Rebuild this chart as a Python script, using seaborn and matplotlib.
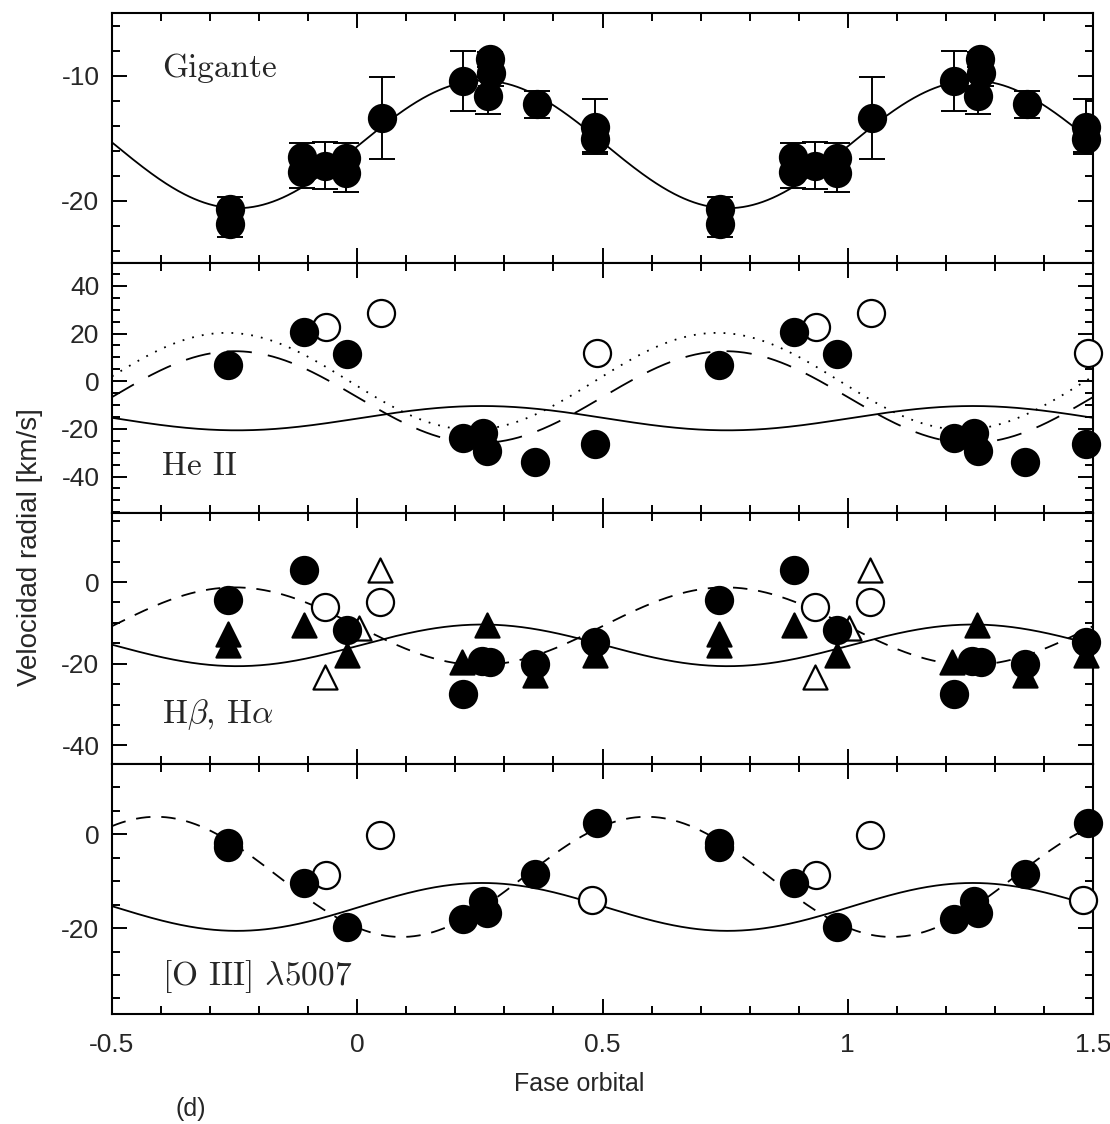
import numpy as np
import pandas as pd
import matplotlib
matplotlib.use("Agg")
import matplotlib.pyplot as plt
from matplotlib.ticker import MultipleLocator, FixedLocator, FixedFormatter
import seaborn as sns

# ---- Giant star radial velocities (phase, km/s, error) ----
gig_phase = [-0.260, -0.260, -0.112, -0.112, -0.066, -0.022, -0.022, 0.050,
             0.216, 0.270, 0.272, 0.266, 0.366, 0.485, 0.485]
gig_vel = [-20.7, -21.9, -16.5, -17.7, -17.2, -16.6, -17.8, -13.4,
           -10.4, -8.7, -9.8, -11.6, -12.3, -14.1, -15.1]
gig_err = [1.0, 1.0, 1.1, 1.3, 1.9, 1.2, 1.5, 3.25,
           2.4, 0.6, 1.0, 1.5, 1.05, 2.2, 1.0]

# ---- He II ----
heii_fill_phase = [-0.263, -0.109, -0.021, 0.216, 0.257, 0.265, 0.362, 0.485]
heii_fill_vel = [6.8, 20.6, 11.4, -23.8, -21.6, -29.2, -33.8, -26.2]
heii_open_phase = [-0.064, 0.048, 0.489]
heii_open_vel = [22.7, 28.6, 11.9]

# ---- H beta (circles) / H alpha (triangles) ----
bal_circ_phase = [-0.263, -0.109, -0.021, 0.216, 0.254, 0.271, 0.362, 0.485]
bal_circ_vel = [-4.4, 2.9, -11.8, -27.3, -19.3, -19.6, -20.0, -14.6]
bal_tri_phase = [-0.263, -0.263, -0.109, -0.021, 0.213, 0.264, 0.362, 0.485]
bal_tri_vel = [-12.7, -15.4, -10.4, -17.9, -19.6, -10.6, -22.8, -17.9]
bal_ocirc_phase = [-0.066, 0.046]
bal_ocirc_vel = [-6.1, -4.9]
bal_otri_phase = [-0.066, 0.003, 0.046]
bal_otri_vel = [-23.2, -11.2, 3.0]

# ---- [O III] 5007 ----
oiii_fill_phase = [-0.263, -0.263, -0.109, -0.021, 0.216, 0.257, 0.265, 0.362, 0.489]
oiii_fill_vel = [-1.8, -2.8, -10.5, -19.8, -18.1, -14.2, -16.8, -8.4, 2.4]
oiii_open_phase = [-0.064, 0.046, 0.479]
oiii_open_vel = [-8.8, -0.2, -14.0]

# ---- Orbital solutions: (gamma, K, phase of maximum) ----
orbit_giant = (-15.5, 5.1, 0.255)
orbit_heii_dash = (-6.65, 19.25, -0.25)
orbit_heii_dot = (0.0, 20.3, -0.266)
orbit_balmer_dash = (-10.8, 9.5, -0.25)
orbit_oiii_dash = (-9.1, 12.8, -0.41)

x_ticks = [-0.5, 0, 0.5, 1, 1.5]
x_tick_labels = ["-0.5", "0", "0.5", "1", "1.5"]

sns.set_theme(style="ticks")
plt.rcParams.update({
    "font.family": ["Liberation Sans", "DejaVu Sans"],
    "axes.unicode_minus": False,
    "mathtext.fontset": "cm",
    "axes.linewidth": 1.5,
    "axes.edgecolor": "black",
})

fig = plt.figure(figsize=(11.1, 11.24), dpi=100)
axes = fig.subplots(4, 1, sharex=True, gridspec_kw=dict(hspace=0))
fig.subplots_adjust(left=0.1009, right=0.9847, top=0.9884, bottom=0.0979)

grid = np.linspace(-0.5, 1.5, 800)


def orbit(params):
    g, k, p0 = params
    return g + k * np.cos(2 * np.pi * (grid - p0))


def fold(phase, vel):
    ph = np.asarray(phase, float)
    v = np.asarray(vel, float)
    x = np.concatenate([ph, ph + 1])
    y = np.concatenate([v, v])
    keep = (x >= -0.52) & (x <= 1.52)
    return pd.DataFrame({"fase": x[keep], "vel": y[keep]})


def draw_curve(ax, params, **kw):
    df = pd.DataFrame({"fase": grid, "vel": orbit(params)})
    sns.lineplot(data=df, x="fase", y="vel", ax=ax, color="black",
                 linewidth=1.3, legend=False, **kw)


def draw_points(ax, phase, vel, marker="o", filled=True, size=380):
    df = fold(phase, vel)
    sns.scatterplot(data=df, x="fase", y="vel", ax=ax, marker=marker, s=size,
                    color="black" if filled else "white", edgecolor="black",
                    linewidth=1.6, legend=False, zorder=5, clip_on=False)


serif = dict(family="cmr10", fontsize=24)

# Panel 1: giant
ax = axes[0]
draw_curve(ax, orbit_giant, linestyle="-")
gp = np.concatenate([gig_phase, np.array(gig_phase) + 1])
gv = np.concatenate([gig_vel, gig_vel])
ge = np.concatenate([gig_err, gig_err])
ax.errorbar(gp, gv, yerr=ge, fmt="none", ecolor="black", elinewidth=1.4,
            capsize=9.5, capthick=1.4, zorder=3)
draw_points(ax, gig_phase, gig_vel)
ax.set_ylim(-25, -5)
ax.yaxis.set_major_locator(FixedLocator([-20, -10]))
ax.yaxis.set_minor_locator(MultipleLocator(2))
ax.text(0.051, 0.78, "Gigante", transform=ax.transAxes, va="center", **serif)

# Panel 2: He II
ax = axes[1]
draw_curve(ax, orbit_giant, linestyle="-")
draw_curve(ax, orbit_heii_dash, linestyle=(0, (14, 9)))
draw_curve(ax, orbit_heii_dot, linestyle=(0, (1, 4.5)))
draw_points(ax, heii_open_phase, heii_open_vel, filled=False)
draw_points(ax, heii_fill_phase, heii_fill_vel)
ax.set_ylim(-55.5, 49.5)
ax.yaxis.set_major_locator(MultipleLocator(20))
ax.yaxis.set_minor_locator(MultipleLocator(5))
ax.text(0.051, 0.187, "He II", transform=ax.transAxes, va="center", **serif)

# Panel 3: H beta, H alpha
ax = axes[2]
draw_curve(ax, orbit_giant, linestyle="-")
draw_curve(ax, orbit_balmer_dash, linestyle=(0, (8, 6)))
draw_points(ax, bal_ocirc_phase, bal_ocirc_vel, filled=False)
draw_points(ax, bal_otri_phase, bal_otri_vel, marker="^", filled=False, size=300)
draw_points(ax, bal_tri_phase, bal_tri_vel, marker="^", size=300)
draw_points(ax, bal_circ_phase, bal_circ_vel)
ax.set_ylim(-44.5, 16.8)
ax.yaxis.set_major_locator(MultipleLocator(20))
ax.yaxis.set_minor_locator(MultipleLocator(5))
ax.text(0.051, 0.196, r"H$\beta$, H$\alpha$", transform=ax.transAxes,
        va="center", **serif)

# Panel 4: [O III]
ax = axes[3]
draw_curve(ax, orbit_giant, linestyle="-")
draw_curve(ax, orbit_oiii_dash, linestyle=(0, (8, 6)))
draw_points(ax, oiii_open_phase, oiii_open_vel, filled=False)
draw_points(ax, oiii_fill_phase, oiii_fill_vel)
ax.set_ylim(-38.3, 15.0)
ax.yaxis.set_major_locator(MultipleLocator(20))
ax.yaxis.set_minor_locator(MultipleLocator(5))
ax.text(0.051, 0.149, r"[O III] $\lambda$5007", transform=ax.transAxes,
        va="center", **serif)

for ax in axes:
    ax.set_xlim(-0.5, 1.5)
    ax.xaxis.set_major_locator(FixedLocator(x_ticks))
    ax.xaxis.set_minor_locator(MultipleLocator(0.1))
    ax.tick_params(which="both", direction="in", top=True, right=True,
                   color="black", width=1.4)
    ax.tick_params(which="major", length=11)
    ax.tick_params(which="minor", length=5.5)
    ax.tick_params(axis="y", labelsize=19, pad=9)
    ax.tick_params(axis="x", labelsize=19, pad=14)
    ax.set_xlabel("")
    ax.set_ylabel("")
    for s in ax.spines.values():
        s.set_visible(True)
        s.set_linewidth(1.5)

axes[-1].xaxis.set_major_formatter(FixedFormatter(x_tick_labels))

fig.text(0.027, 0.513, "Velocidad radial [km/s]", rotation=90,
         ha="center", va="center", fontsize=20)
fig.text(0.522, 0.036, "Fase orbital", ha="center", va="center", fontsize=18)
fig.text(0.172, 0.013, "(d)", ha="center", va="center", fontsize=18)

fig.savefig("out.png", dpi=100, facecolor="white")
